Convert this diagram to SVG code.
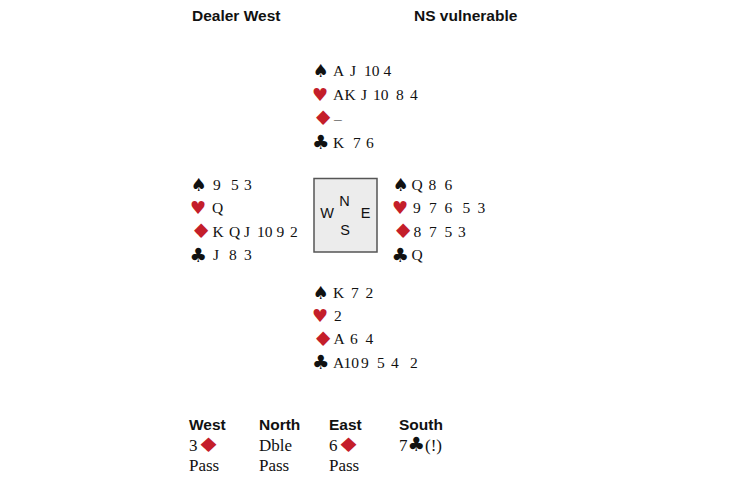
<svg xmlns="http://www.w3.org/2000/svg" width="730" height="486" viewBox="0 0 730 486">
<style>
.hd{font-family:"Liberation Sans",Arial,sans-serif;font-weight:bold;font-size:15.5px;fill:#111}
.c{font-family:"Liberation Serif","Times New Roman",serif;font-size:15.5px;fill:#111}
.b{font-family:"Liberation Serif","Times New Roman",serif;font-size:17px;fill:#111}
.s{font-family:"DejaVu Sans",sans-serif;font-size:18px}
.cl{font-family:"DejaVu Sans",sans-serif;font-size:19.5px}
.d{font-family:"DejaVu Sans",sans-serif;font-size:20px}
.blk{fill:#111}
.red{fill:#c41e2a}
.cmp{font-family:"Liberation Sans",Arial,sans-serif;font-size:14.5px;fill:#111;text-anchor:middle}
</style>
<rect width="730" height="486" fill="#fff"/>
<g id="header">
<text class="hd" x="192" y="21">Dealer West</text>
<text class="hd" x="414" y="21">NS vulnerable</text>
</g>
<g id="north">
<text class="s blk" x="312.5" y="77">♠</text>
<text class="s red" x="312" y="100.5">♥</text>
<text class="d red" transform="translate(312,125) scale(1.25,1)">♦</text>
<text class="cl blk" x="312" y="148.5">♣</text>
<text class="c" y="76"><tspan x="333">A</tspan><tspan x="350">J</tspan><tspan x="364">10</tspan><tspan x="383.5">4</tspan></text>
<text class="c" y="100"><tspan x="333">A</tspan><tspan x="344.5">K</tspan><tspan x="361">J</tspan><tspan x="373">10</tspan><tspan x="396">8</tspan><tspan x="410">4</tspan></text>
<text class="c" x="334" y="123.5">–</text>
<text class="c" y="147.5"><tspan x="333">K</tspan><tspan x="353">7</tspan><tspan x="366">6</tspan></text>
</g>
<g id="west">
<text class="s blk" x="190.5" y="190.5">♠</text>
<text class="s red" x="190" y="213.5">♥</text>
<text class="d red" transform="translate(190,238) scale(1.25,1)">♦</text>
<text class="cl blk" x="189.5" y="261.5">♣</text>
<text class="c" y="189.5"><tspan x="213">9</tspan><tspan x="231">5</tspan><tspan x="244">3</tspan></text>
<text class="c" x="212" y="213">Q</text>
<text class="c" y="236.5"><tspan x="212.5">K</tspan><tspan x="229">Q</tspan><tspan x="244">J</tspan><tspan x="257">10</tspan><tspan x="276.5">9</tspan><tspan x="290">2</tspan></text>
<text class="c" y="260"><tspan x="213">J</tspan><tspan x="229">8</tspan><tspan x="244">3</tspan></text>
</g>
<g id="compass">
<rect x="314" y="178.5" width="63" height="73.5" fill="#ececec" stroke="#555" stroke-width="1.5"/>
<text class="cmp" x="344.5" y="206">N</text>
<text class="cmp" x="327" y="218">W</text>
<text class="cmp" x="365.5" y="218">E</text>
<text class="cmp" x="345" y="235">S</text>
</g>
<g id="east">
<text class="s blk" x="392.5" y="190.5">♠</text>
<text class="s red" x="392" y="213.5">♥</text>
<text class="d red" transform="translate(392,238) scale(1.25,1)">♦</text>
<text class="cl blk" x="391.5" y="261.5">♣</text>
<text class="c" y="189.5"><tspan x="411.5">Q</tspan><tspan x="428.5">8</tspan><tspan x="444.5">6</tspan></text>
<text class="c" y="213"><tspan x="413">9</tspan><tspan x="429">7</tspan><tspan x="444.5">6</tspan><tspan x="462.5">5</tspan><tspan x="477.5">3</tspan></text>
<text class="c" y="236.5"><tspan x="413.5">8</tspan><tspan x="429">7</tspan><tspan x="444.5">5</tspan><tspan x="458">3</tspan></text>
<text class="c" x="411.5" y="260">Q</text>
</g>
<g id="south">
<text class="s blk" x="312.5" y="298.5">♠</text>
<text class="s red" x="312" y="321.5">♥</text>
<text class="d red" transform="translate(312,346) scale(1.25,1)">♦</text>
<text class="cl blk" x="312" y="368.5">♣</text>
<text class="c" y="297.5"><tspan x="333">K</tspan><tspan x="351">7</tspan><tspan x="365.5">2</tspan></text>
<text class="c" x="334" y="321">2</text>
<text class="c" y="344.3"><tspan x="333.5">A</tspan><tspan x="350">6</tspan><tspan x="365.5">4</tspan></text>
<text class="c" y="367.5"><tspan x="333">A</tspan><tspan x="343.5">10</tspan><tspan x="361">9</tspan><tspan x="377">5</tspan><tspan x="391">4</tspan><tspan x="410">2</tspan></text>
</g>
<g id="auction">
<text class="hd" x="189" y="430">West</text>
<text class="hd" x="259" y="430">North</text>
<text class="hd" x="329" y="430">East</text>
<text class="hd" x="399" y="430">South</text>
<text class="b" x="189" y="451">3</text>
<text class="d red" transform="translate(196,452) scale(1.4,1)">♦</text>
<text class="b" x="259" y="451">Dble</text>
<text class="b" x="329" y="451">6</text>
<text class="d red" transform="translate(336,452) scale(1.4,1)">♦</text>
<text class="b" x="399" y="451">7<tspan class="cl blk">♣</tspan>(!)</text>
<text class="b" x="189" y="470.5">Pass</text>
<text class="b" x="259" y="470.5">Pass</text>
<text class="b" x="329" y="470.5">Pass</text>
</g>
</svg>
